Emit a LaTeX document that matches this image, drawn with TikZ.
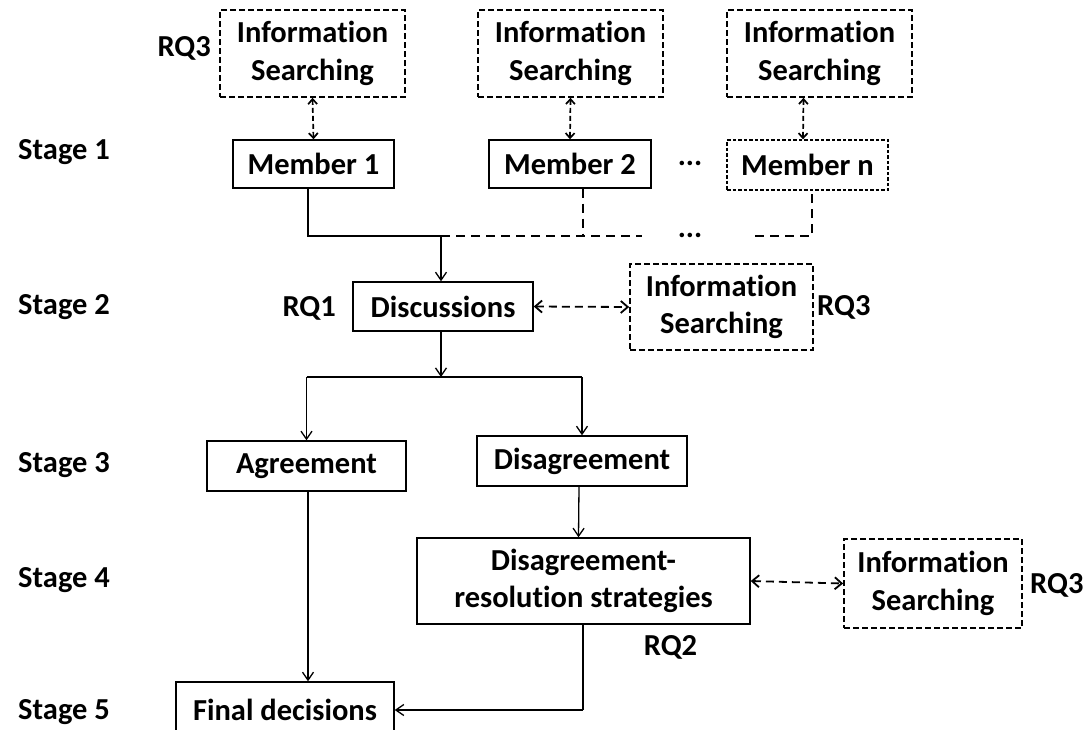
\documentclass[tikz,border=0pt]{standalone}
\usepackage{fontspec}
\setmainfont{Carlito}[Ligatures=NoCommon]
\usetikzlibrary{arrows.meta}
\begin{document}
\begin{tikzpicture}[x=1pt,y=-1pt,
  every node/.style={font=\fontsize{30.5}{37.5}\selectfont\bfseries, inner sep=0pt, align=center},
  solidbox/.style={draw, line width=1.4pt},
  searchbox/.style={draw, line width=1.7pt, dash pattern=on 6pt off 3pt, minimum width=185, minimum height=87},
  finebox/.style={draw, line width=1.3pt, dash pattern=on 3.5pt off 2pt},
  flow/.style={line width=1.3pt, -{Straight Barb[length=8pt,width=11pt]}},
  plainline/.style={line width=1.3pt},
  dashline/.style={line width=1.6pt, dash pattern=on 9pt off 6pt},
  vlink/.style={line width=1.7pt, dash pattern=on 5pt off 3pt, {Straight Barb[length=5pt,width=9pt]}-{Straight Barb[length=5pt,width=9pt]}},
  hlink/.style={line width=1.8pt, dash pattern=on 8pt off 5pt, {Straight Barb[length=7pt,width=12pt]}-{Straight Barb[length=7pt,width=12pt]}}
]
\useasboundingbox (0,0) rectangle (1085,729);

% stage labels
\node[anchor=west] (st1) at (18,152) {Stage 1};
\node[anchor=west] (st2) at (18,307) {Stage 2};
\node[anchor=west] (st3) at (18,465) {Stage 3};
\node[anchor=west] (st4) at (18,580) {Stage 4};
\node[anchor=west] (st5) at (18,712) {Stage 5};

% stage 1: members and their searches
\node[searchbox] (is1) at (312.5,53.5) {Information\\Searching};
\node[searchbox] (is2) at (570.5,53.5) {Information\\Searching};
\node[searchbox] (is3) at (819.5,53.5) {Information\\Searching};
\node[anchor=east] (rq3a) at (211,48) {RQ3};

\node[solidbox, minimum width=161, minimum height=48] (m1) at (313.5,164) {Member 1};
\node[solidbox, minimum width=162, minimum height=48] (m2) at (570,164) {Member 2};
\node[finebox, minimum width=161, minimum height=50] (mn) at (807.5,165) {Member n};
\node (dots1) at (690,163) {...};

\draw[vlink] (is1.south) -- (m1.north);
\draw[vlink] (is2.south) -- (m2.north);
\draw[vlink] ([xshift=-16]is3.south) -- ([xshift=-4.5]mn.north);

% merging the members' contributions
\coordinate (j) at (441,236);
\coordinate (jm2) at (583,236);
\coordinate (jr) at (642,236);
\coordinate (jn0) at (755,236);
\coordinate (jn) at (812,236);
\draw[line width=2pt] ([xshift=-5.5]m1.south) |- (j);
\draw[dashline] (j) -- (jr);
\draw[dashline] ([xshift=13]m2.south) -- (jm2);
\draw[dashline] (jn0) -- (jn) -- ([xshift=4.5]mn.south);
\node (dots2) at (690,235) {...};

% stage 2
\node[solidbox, minimum width=180, minimum height=49] (disc) at (443,306.5) {Discussions};
\node[anchor=east] (rq1) at (336,308) {RQ1};
\node[searchbox, minimum width=183, minimum height=86] (is4) at (721.5,307) {Information\\Searching};
\node[anchor=west] (rq3b) at (817,307) {RQ3};
\draw[flow] (j) -- (j |- disc.north);
\draw[hlink] (disc.east) -- (is4.west);

% stage 3
\coordinate (s) at (441,377);
\node[solidbox, minimum width=199, minimum height=50] (agree) at (306.5,466) {Agreement};
\node[solidbox, minimum width=210, minimum height=50] (dis) at (582,461) {Disagreement};
\draw[flow] (disc.south -| s) -- (s);
\draw[plainline] (agree.north |- s) -- (dis.north |- s);
\draw[flow] (agree.north |- s) -- (agree.north);
\draw[flow] (dis.north |- s) -- (dis.north);

% stage 4
\node[solidbox, minimum width=333, minimum height=86] (strat) at (583.5,581) {Disagreement-\\resolution strategies};
\node[searchbox, minimum width=178, minimum height=89] (is5) at (933,583.5) {Information\\Searching};
\node[anchor=west] (rq3c) at (1030,585) {RQ3};
\node (rq2) at (670.5,647) {RQ2};
\draw[flow] ([xshift=-3]dis.south) -- ([xshift=-3.5]dis.south |- strat.north);
\draw[hlink] (strat.east) -- (is5.west);

% stage 5
\node[solidbox, minimum width=218, minimum height=56] (final) at (285,710) {Final decisions};
\draw[flow] ([xshift=1.5]agree.south) -- ([xshift=1.5]agree.south |- final.north);
\coordinate (c) at (583,710);
\draw[plainline] (strat.south -| c) -- (c);
\draw[flow] (c) -- (final.east);
\end{tikzpicture}
\end{document}
